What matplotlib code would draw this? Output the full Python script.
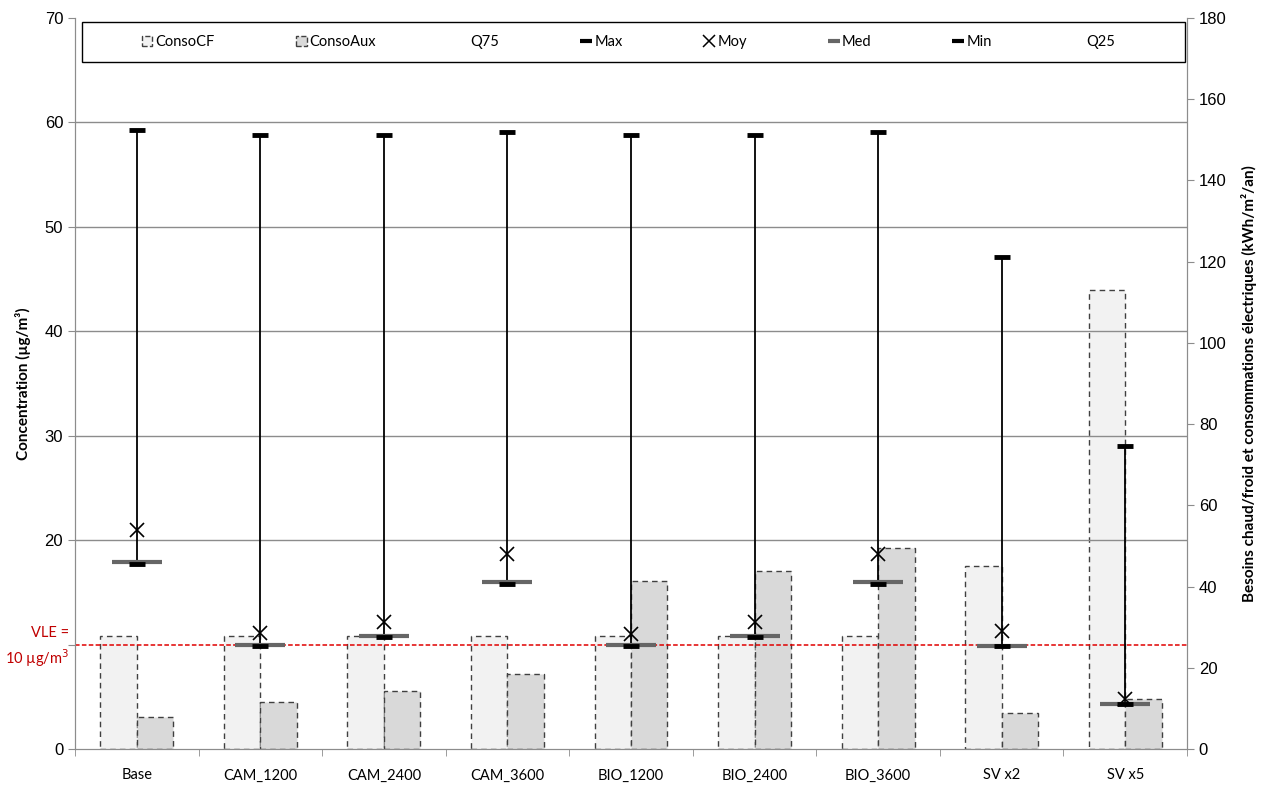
import numpy as np
import matplotlib
matplotlib.use("Agg")
import matplotlib.pyplot as plt
from matplotlib.lines import Line2D
from matplotlib.patches import Patch, Rectangle

categories = ["Base", "CAM_1200", "CAM_2400", "CAM_3600", "BIO_1200",
              "BIO_2400", "BIO_3600", "SV x2", "SV x5"]
conso_cf = [27.8, 27.8, 27.8, 27.8, 27.8, 27.8, 27.8, 45.1, 113.0]
conso_aux = [7.9, 11.6, 14.3, 18.5, 41.4, 43.8, 49.5, 8.9, 12.3]
c_max = [59.3, 58.8, 58.8, 59.1, 58.8, 58.8, 59.1, 47.1, 29.0]
c_moy = [21.0, 11.1, 12.2, 18.7, 11.0, 12.2, 18.7, 11.3, 4.8]
c_med = [17.9, 10.0, 10.8, 16.0, 10.0, 10.8, 16.0, 9.9, 4.3]
c_min = [17.7, 9.9, 10.7, 15.8, 9.9, 10.7, 15.8, 9.9, 4.3]
vle = 10
left_ticks = [0, 10, 20, 30, 40, 50, 60, 70]
left_ticklabels = ["0", "", "20", "30", "40", "50", "60", "70"]

lab_font = "Lato"
num_font = "Liberation Sans"
gcol = "#8c8c8c"

fig = plt.figure(figsize=(12.77, 7.85), dpi=100)
ax = fig.add_axes([0.0587, 0.0459, 0.8708, 0.9311])
ax2 = ax.twinx()
ax.set_zorder(ax2.get_zorder() + 1)
ax.patch.set_visible(False)

x = np.arange(len(categories))
w = 0.295
ax2.bar(x - w / 2, conso_cf, w, color="#f2f2f2", edgecolor="#404040",
        linestyle=(0, (4, 3)), linewidth=1)
ax2.bar(x + w / 2, conso_aux, w, color="#d9d9d9", edgecolor="#404040",
        linestyle=(0, (4, 3)), linewidth=1)
ax2.set_ylim(0, 180)
ax2.set_yticks(np.arange(0, 181, 20))

# boxes
ax.vlines(x, c_min, c_max, color="black", linewidth=1.3, zorder=3)
ax.plot(x, c_med, linestyle="none", marker="_", markersize=36, mew=3,
        color="#666666", zorder=4)
ax.plot(x, c_min, linestyle="none", marker="_", markersize=11, mew=3.5,
        color="black", zorder=5)
ax.plot(x, c_max, linestyle="none", marker="_", markersize=11, mew=3.5,
        color="black", zorder=5)
ax.plot(x, c_moy, linestyle="none", marker="x", markersize=10, mew=1.2,
        color="black", zorder=5)
ax.axhline(vle, color="#e00000", linestyle=(0, (3, 1.5)), linewidth=1.1, zorder=2)
ax.text(-0.005, vle + 0.45, "VLE =", transform=ax.get_yaxis_transform(),
        ha="right", va="bottom", color="#c00000", fontsize=10.5, family=lab_font)
ax.text(-0.005, vle - 0.3, "10 µg/m$^3$", transform=ax.get_yaxis_transform(),
        ha="right", va="top", color="#c00000", fontsize=10.5, family=lab_font)

ax.set_ylim(0, 70)
ax.set_xlim(-0.5, len(categories) - 0.5)
ax.set_yticks(left_ticks)
ax.set_yticklabels(left_ticklabels)
for v in range(20, 61, 10):
    ax.axhline(v, color=gcol, linewidth=1, zorder=0)
ax2.set_axisbelow(True)

ax.set_xticks(x)
ax.set_xticklabels(categories, family=lab_font, fontsize=10.5)
ax.set_xticks(np.arange(-0.5, len(categories), 1), minor=True)
ax.tick_params(axis="x", which="major", length=0, pad=14)
ax.tick_params(axis="x", which="minor", length=5, color=gcol)
ax.tick_params(axis="y", length=5, color=gcol, labelsize=12)
ax2.tick_params(axis="y", length=5, color=gcol, labelsize=12)
for t in ax.get_yticklabels() + ax2.get_yticklabels():
    t.set_family(num_font)

for a in (ax, ax2):
    a.spines["top"].set_visible(False)
    for s in ("left", "right", "bottom"):
        a.spines[s].set_color(gcol)

ax.set_ylabel("Concentration (µg/m³)", family=lab_font, fontweight="bold",
              fontsize=11, labelpad=10)
ax2.set_ylabel("Besoins chaud/froid et consommations électriques (kWh/m²/an)",
               family=lab_font, fontweight="bold", fontsize=11, labelpad=10)

handles = [
    Patch(facecolor="#f2f2f2", edgecolor="#404040", linestyle="--"),
    Patch(facecolor="#d9d9d9", edgecolor="#404040", linestyle="--"),
    Line2D([], [], linestyle="none"),
    Line2D([], [], linestyle="none", marker="_", markersize=8, mew=3, color="black"),
    Line2D([], [], linestyle="none", marker="x", markersize=9, mew=1.1, color="black"),
    Line2D([], [], linestyle="none", marker="_", markersize=8, mew=3, color="#666666"),
    Line2D([], [], linestyle="none", marker="_", markersize=8, mew=3, color="black"),
    Line2D([], [], linestyle="none"),
]
labels = ["ConsoCF", "ConsoAux", "Q75", "Max", "Moy", "Med", "Min", "Q25"]
ax.add_patch(Rectangle((0.006, 0.9398), 0.992, 0.0547, transform=ax.transAxes,
                       facecolor="white", edgecolor="black", linewidth=1,
                       zorder=9))
leg = ax.legend(handles, labels, ncol=8, loc="center",
                bbox_to_anchor=(0.498, 0.967), frameon=False,
                handlelength=0.7, handletextpad=0.2, columnspacing=5.6,
                prop={"family": lab_font, "size": 10.5})
leg.set_zorder(10)

fig.savefig("out.png", dpi=100)
